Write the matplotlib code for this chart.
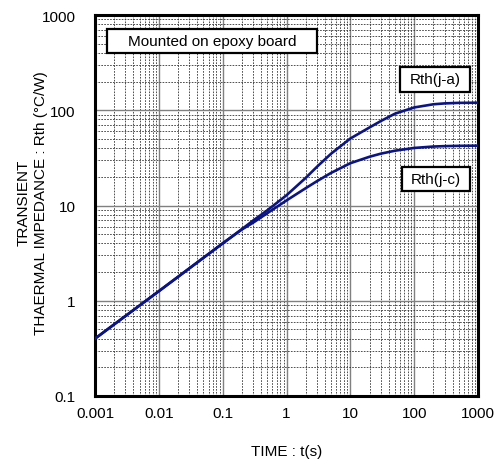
import matplotlib
matplotlib.use("Agg")
import matplotlib.pyplot as plt
from matplotlib.patches import Rectangle
from matplotlib.ticker import LogLocator, FixedLocator, FixedFormatter, NullFormatter

plt.rcParams["font.family"] = ["Liberation Sans", "DejaVu Sans"]

# time (s) and transient thermal impedance (degC/W)
time_s = [0.001, 0.01, 0.1, 0.2, 0.3, 0.5, 1, 2, 3, 5, 10, 20, 30, 50, 100, 200, 300, 500, 1000]
rth_ja = [0.4, 1.26, 4.0, 5.65, 6.95, 8.9, 12.8, 19.5, 25.5, 35, 50.5, 66, 77, 92, 107, 115.5, 118, 119.5, 120]
rth_jc = [0.4, 1.26, 4.0, 5.6, 6.6, 8.3, 11.3, 15.2, 18, 22, 27.8, 32.5, 35, 37.6, 40.2, 41.6, 42, 42.3, 42.5]

x_ticks = [0.001, 0.01, 0.1, 1, 10, 100, 1000]
x_tick_labels = ["0.001", "0.01", "0.1", "1", "10", "100", "1000"]
y_ticks = [0.1, 1, 10, 100, 1000]
y_tick_labels = ["0.1", "1", "10", "100", "1000"]

fig = plt.figure(figsize=(4.97, 4.64), dpi=100)
ax = fig.add_axes([95 / 497, 67 / 464, 383 / 497, 381 / 464])

line_color = "#0a1484"
ax.plot(time_s, rth_ja, color=line_color, lw=1.9, zorder=5)
ax.plot(time_s, rth_jc, color=line_color, lw=1.9, zorder=5)

ax.set_xscale("log")
ax.set_yscale("log")
ax.set_xlim(0.001, 1000)
ax.set_ylim(0.1, 1000)

ax.xaxis.set_major_locator(FixedLocator(x_ticks))
ax.xaxis.set_major_formatter(FixedFormatter(x_tick_labels))
ax.yaxis.set_major_locator(FixedLocator(y_ticks))
ax.yaxis.set_major_formatter(FixedFormatter(y_tick_labels))
ax.xaxis.set_minor_locator(LogLocator(base=10, subs=range(2, 10), numticks=20))
ax.yaxis.set_minor_locator(LogLocator(base=10, subs=range(2, 10), numticks=20))
ax.xaxis.set_minor_formatter(NullFormatter())
ax.yaxis.set_minor_formatter(NullFormatter())

ax.grid(which="major", color="#808080", lw=1.0, ls="-")
ax.grid(which="minor", color="#333333", lw=0.6, ls=(0, (2, 1.5)))
ax.set_axisbelow(True)

ax.tick_params(which="both", length=0)
ax.tick_params(axis="x", labelsize=11, pad=7)
ax.tick_params(axis="y", labelsize=11, pad=14)

for s in ax.spines.values():
    s.set_linewidth(2.2)
    s.set_color("black")

ax.set_xlabel("TIME : t(s)", fontsize=11)
ax.xaxis.label.set_va("center")
ax.xaxis.set_label_coords(0.5, -0.144)
ax.set_ylabel("TRANSIENT\nTHAERMAL IMPEDANCE : Rth (°C/W)", fontsize=11, linespacing=1.35)
ax.yaxis.label.set_va("center")
ax.yaxis.set_label_coords(-0.163, 0.51)

# boxed annotations (axes fraction: x0, y0, x1, y1)
boxes = [
    ("Mounted on epoxy board", (0.031, 0.900, 0.580, 0.963)),
    ("Rth(j-a)", (0.796, 0.798, 0.979, 0.864)),
    ("Rth(j-c)", (0.802, 0.538, 0.979, 0.601)),
]
for label, (x0, y0, x1, y1) in boxes:
    ax.add_patch(Rectangle((x0, y0), x1 - x0, y1 - y0, transform=ax.transAxes,
                           fc="white", ec="black", lw=1.6, zorder=6))
    ax.text((x0 + x1) / 2, (y0 + y1) / 2, label, transform=ax.transAxes,
            fontsize=11, ha="center", va="center", zorder=7)

fig.savefig("out.png", dpi=100)
plt.close(fig)
